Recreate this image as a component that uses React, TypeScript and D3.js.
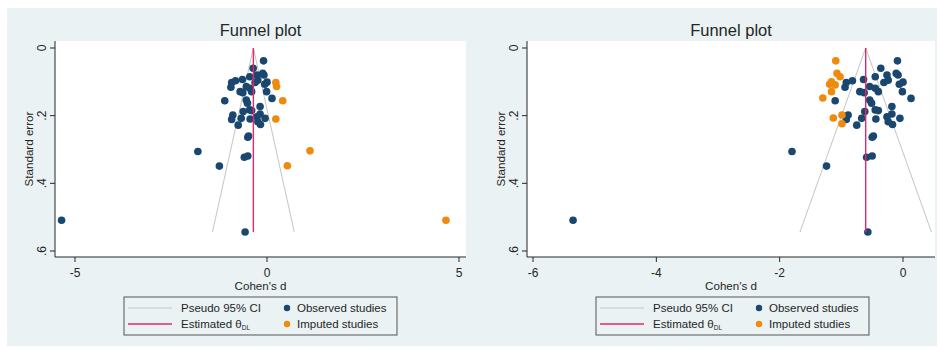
import React from 'react';
import * as d3 from 'd3';

// Observed studies: [Cohen's d, standard error]
const observedStudies: [number, number][] = [
  [-0.09, 0.038], [-0.36, 0.060], [-0.45, 0.085], [-0.26, 0.080], [-0.11, 0.075],
  [-0.08, 0.080], [-0.24, 0.095], [-0.31, 0.102], [0.00, 0.101], [-0.06, 0.107],
  [-0.64, 0.093], [-0.82, 0.097], [-0.92, 0.102], [-0.94, 0.116], [-0.54, 0.114],
  [-0.45, 0.119], [-0.40, 0.129], [-0.70, 0.129], [-0.63, 0.132], [-0.01, 0.129],
  [0.13, 0.149], [-1.10, 0.156], [-0.54, 0.154], [-0.51, 0.163], [-0.18, 0.173],
  [-0.45, 0.183], [-0.40, 0.185], [-0.62, 0.188], [-0.89, 0.198], [-0.92, 0.211],
  [-0.67, 0.208], [-0.44, 0.210], [-0.26, 0.203], [-0.18, 0.195], [-0.05, 0.208],
  [-0.24, 0.218], [-0.17, 0.226], [-0.75, 0.228], [-0.48, 0.260], [-0.50, 0.264],
  [-0.59, 0.323], [-0.50, 0.319], [-1.80, 0.306], [-1.24, 0.349], [-0.57, 0.544],
  [-5.35, 0.509],
];

// Imputed studies, left panel (filled on the right)
const imputedLeft: [number, number][] = [
  [0.23, 0.102], [0.25, 0.114], [0.41, 0.156], [0.23, 0.210],
  [1.12, 0.304], [0.53, 0.348], [4.66, 0.509],
];

// Imputed studies, right panel (filled on the left)
const imputedRight: [number, number][] = [
  [-1.09, 0.038], [-1.07, 0.075], [-1.02, 0.085], [-1.16, 0.100], [-1.19, 0.107],
  [-1.10, 0.109], [-1.16, 0.129], [-1.30, 0.148], [-1.13, 0.207], [-0.99, 0.198],
  [-0.99, 0.224],
];

const thetaLeft = -0.355;
const thetaRight = -0.605;

const xTicksLeft = [-5, 0, 5];
const xTicksRight = [-6, -4, -2, 0];
const seTicks = [0, 0.2, 0.4, 0.6];
const seTickLabels = ['0', '.2', '.4', '.6'];

const titleText = 'Funnel plot';
const xTitle = "Cohen's d";
const yTitle = 'Standard error';
const legendLabels = ['Pseudo 95% CI', 'Estimated θ', 'Observed studies', 'Imputed studies'];

const BG = '#EAF2F3';
const NAVY = '#1A476F';
const ORANGE = '#F08A0C';
const RED = '#E0286A';
const CI = '#C4C4C4';
const INK = '#262626';
const FONT = "'Liberation Sans', Arial, sans-serif";

const yScale = d3.scaleLinear().domain([0, 0.6]).range([48, 251]);
const PLOT_TOP = 41;
const PLOT_BOTTOM = 257;

type PanelProps = {
  x0: number;
  x1: number;
  xScale: d3.ScaleLinear<number, number>;
  xTicks: number[];
  imputed: [number, number][];
  theta: number;
  legendX: number;
};

function Panel({ x0, x1, xScale, xTicks, imputed, theta, legendX }: PanelProps) {
  const seMax = d3.max(observedStudies, (d) => d[1]) as number;
  const z = 1.96;
  const line = d3
    .line<[number, number]>()
    .x((d) => xScale(d[0]))
    .y((d) => yScale(d[1]));
  const ciLeft: [number, number][] = [
    [theta, 0],
    [theta - z * seMax, seMax],
  ];
  const ciRight: [number, number][] = [
    [theta, 0],
    [theta + z * seMax, seMax],
  ];
  const est: [number, number][] = [
    [theta, 0],
    [theta, seMax],
  ];
  const cx = (x0 + x1) / 2;
  const r = 3.8;
  const lf = 11.5;
  return (
    <g>
      <rect x={x0} y={PLOT_TOP} width={x1 - x0} height={PLOT_BOTTOM - PLOT_TOP} fill="#FFFFFF" />
      <text x={cx} y={36} textAnchor="middle" fontSize={16.5} fill={INK} fontFamily={FONT}>
        {titleText}
      </text>
      {/* funnel */}
      <path d={line(ciLeft) || ''} stroke={CI} strokeWidth={1} fill="none" />
      <path d={line(ciRight) || ''} stroke={CI} strokeWidth={1} fill="none" />
      {/* points */}
      {observedStudies.map((d, i) => (
        <circle key={'o' + i} cx={xScale(d[0])} cy={yScale(d[1])} r={r} fill={NAVY} />
      ))}
      {imputed.map((d, i) => (
        <circle key={'m' + i} cx={xScale(d[0])} cy={yScale(d[1])} r={r} fill={ORANGE} />
      ))}
      <path d={line(est) || ''} stroke={RED} strokeWidth={1.4} fill="none" />
      {/* y axis */}
      <line x1={x0} x2={x0} y1={PLOT_TOP} y2={PLOT_BOTTOM} stroke={INK} strokeWidth={1} />
      {seTicks.map((t, i) => (
        <g key={'y' + i}>
          <line x1={x0 - 5} x2={x0} y1={yScale(t)} y2={yScale(t)} stroke={INK} strokeWidth={1} />
          <text
            x={x0 - 13}
            y={yScale(t)}
            transform={`rotate(-90, ${x0 - 13}, ${yScale(t)})`}
            textAnchor="middle"
            dominantBaseline="central"
            fontSize={12}
            fill={INK}
            fontFamily={FONT}
          >
            {seTickLabels[i]}
          </text>
        </g>
      ))}
      <text
        x={x0 - 27}
        y={(PLOT_TOP + PLOT_BOTTOM) / 2}
        transform={`rotate(-90, ${x0 - 27}, ${(PLOT_TOP + PLOT_BOTTOM) / 2})`}
        textAnchor="middle"
        dominantBaseline="central"
        fontSize={11.6}
        fill={INK}
        fontFamily={FONT}
      >
        {yTitle}
      </text>
      {/* x axis */}
      <line x1={x0} x2={x1} y1={PLOT_BOTTOM} y2={PLOT_BOTTOM} stroke={INK} strokeWidth={1} />
      {xTicks.map((t, i) => (
        <g key={'x' + i}>
          <line x1={xScale(t)} x2={xScale(t)} y1={PLOT_BOTTOM} y2={PLOT_BOTTOM + 5} stroke={INK} strokeWidth={1} />
          <text x={xScale(t)} y={276.5} textAnchor="middle" fontSize={12} fill={INK} fontFamily={FONT}>
            {t < 0 ? '-' + Math.abs(t) : String(t)}
          </text>
        </g>
      ))}
      <text x={cx} y={289.5} textAnchor="middle" fontSize={11.6} fill={INK} fontFamily={FONT}>
        {xTitle}
      </text>
      {/* legend */}
      <rect x={legendX} y={297} width={273} height={38} fill={BG} stroke="#555" strokeWidth={1} />
      <line x1={legendX + 4} x2={legendX + 48} y1={308} y2={308} stroke={CI} strokeWidth={1} />
      <text x={legendX + 57} y={312} fontSize={lf} fill={INK} fontFamily={FONT}>
        {legendLabels[0]}
      </text>
      <line x1={legendX + 4} x2={legendX + 48} y1={324} y2={324} stroke={RED} strokeWidth={1.4} />
      <text x={legendX + 57} y={328} fontSize={lf} fill={INK} fontFamily={FONT}>
        {legendLabels[1]}
        <tspan fontSize={6.5} dy={2}>DL</tspan>
      </text>
      <circle cx={legendX + 163} cy={308} r={3.2} fill={NAVY} />
      <text x={legendX + 173} y={312} fontSize={lf} fill={INK} fontFamily={FONT}>
        {legendLabels[2]}
      </text>
      <circle cx={legendX + 163} cy={324} r={3.2} fill={ORANGE} />
      <text x={legendX + 173} y={328} fontSize={lf} fill={INK} fontFamily={FONT}>
        {legendLabels[3]}
      </text>
    </g>
  );
}

export default function App() {
  const xLeft = d3.scaleLinear().domain([-5, 5]).range([75, 459]);
  const xRight = d3.scaleLinear().domain([-6, 0]).range([533, 903]);
  return (
    <svg
      width={939}
      height={350}
      style={{ position: 'absolute', left: 0, top: 0, background: '#FFFFFF' }}
    >
      <rect x={7} y={8} width={930} height={338} fill={BG} />
      <Panel x0={55} x1={466} xScale={xLeft} xTicks={xTicksLeft} imputed={imputedLeft} theta={thetaLeft} legendX={124} />
      <Panel x0={527} x1={935} xScale={xRight} xTicks={xTicksRight} imputed={imputedRight} theta={thetaRight} legendX={596} />
    </svg>
  );
}
